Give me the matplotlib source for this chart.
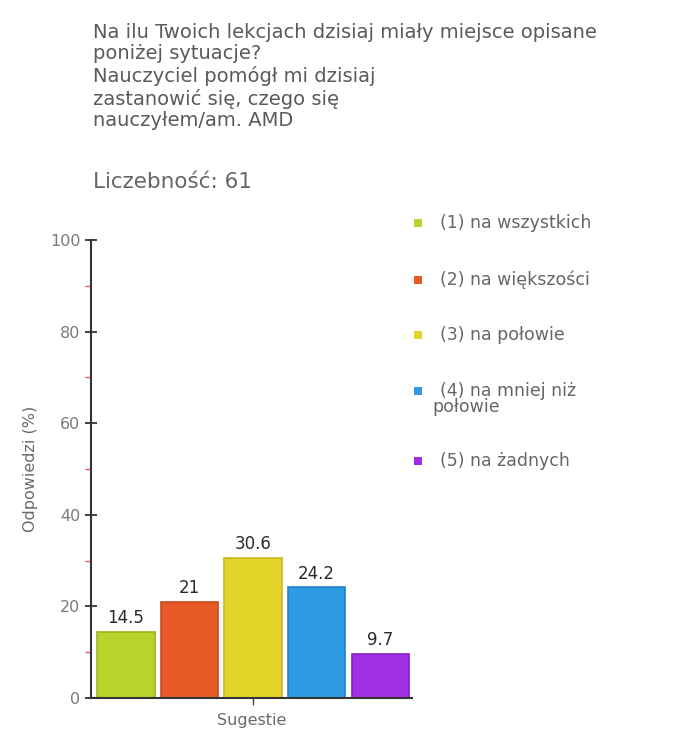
import matplotlib
matplotlib.use("Agg")
import matplotlib.pyplot as plt
from matplotlib.ticker import MultipleLocator

categories = ["(1) na wszystkich", "(2) na większości", "(3) na połowie",
              "(4) na mniej niż\npołowie", "(5) na żadnych"]
values = [14.5, 21, 30.6, 24.2, 9.7]
value_labels = ["14.5", "21", "30.6", "24.2", "9.7"]
colors = ["#b8d42c", "#e65a28", "#e4d42a", "#2e9ce2", "#a02fe2"]
edge_colors = ["#9cb41c", "#c84a1c", "#c8b81c", "#2080c8", "#861cc8"]
yticks = [0, 20, 40, 60, 80, 100]
title = ("Na ilu Twoich lekcjach dzisiaj miały miejsce opisane\n"
         "poniżej sytuacje?\n"
         "Nauczyciel pomógł mi dzisiaj\n"
         "zastanowić się, czego się\n"
         "nauczyłem/am. AMD")
count_label = "Liczebność: 61"
xlabel = "Sugestie"
ylabel = "Odpowiedzi (%)"

W, H = 673, 735
fig = plt.figure(figsize=(W / 100, H / 100), dpi=100)
ax = fig.add_axes([91 / W, 1 - 698 / H, (412 - 91) / W, (698 - 240) / H])

x = list(range(len(values)))
ax.bar(x, values, width=0.9, color=colors, edgecolor=edge_colors, linewidth=1.2, zorder=2)
for xi, v, lab in zip(x, values, value_labels):
    ax.text(xi, v + 1.0, lab, ha="center", va="bottom", fontsize=12,
            color="#2a2a2a")

ax.set_xlim(-0.55, 4.5)
ax.set_ylim(0, 100)
ax.set_yticks(yticks)
ax.yaxis.set_minor_locator(MultipleLocator(10))
ax.tick_params(axis="y", which="major", direction="inout", length=9, width=1.3,
               colors="#333333", labelcolor="#7a7a7a", labelsize=11.5, pad=3)
ax.tick_params(axis="y", which="minor", direction="out", length=4, width=1,
               colors="#ee5555")
for t in ax.yaxis.get_minor_ticks():
    if abs(t.get_loc() - 90) < 1e-6:
        t.tick1line.set_color("#555555")
ax.set_xticks([2])
ax.set_xticklabels([""])
ax.tick_params(axis="x", which="major", direction="out", length=5, width=1,
               colors="#444444")
for s in ["top", "right"]:
    ax.spines[s].set_visible(False)
ax.spines["left"].set_color("#333333")
ax.spines["left"].set_linewidth(1.5)
ax.spines["bottom"].set_color("#333333")
ax.spines["bottom"].set_linewidth(1.5)
ax.set_xlabel(xlabel, fontsize=11.5, color="#6a6a6a", labelpad=2)
ax.set_ylabel(ylabel, fontsize=11.5, color="#6a6a6a", labelpad=9)

fig.text(93 / W, 1 - 23 / H, title, ha="left", va="top", fontsize=14,
         color="#5a5a5a", linespacing=1.16)
fig.text(93 / W, 1 - 182 / H, count_label, ha="left", va="center", fontsize=15.5,
         color="#666666")

legend_y = [223, 280, 335, 391, 461]
for lab, c, ly in zip(categories, colors, legend_y):
    fig.patches.append(plt.Rectangle((414 / W, 1 - (ly + 4) / H), 8 / W, 8 / H,
                                     transform=fig.transFigure, facecolor=c,
                                     edgecolor="none"))
    parts = lab.split("\n")
    fig.text(440 / W, 1 - ly / H, parts[0], ha="left", va="center",
             fontsize=12.5, color="#666666")
    for k, extra in enumerate(parts[1:], start=1):
        fig.text(432 / W, 1 - (ly + 16 * k) / H, extra, ha="left", va="center",
                 fontsize=12.5, color="#666666")

fig.savefig("out.png", dpi=100, facecolor="white")
